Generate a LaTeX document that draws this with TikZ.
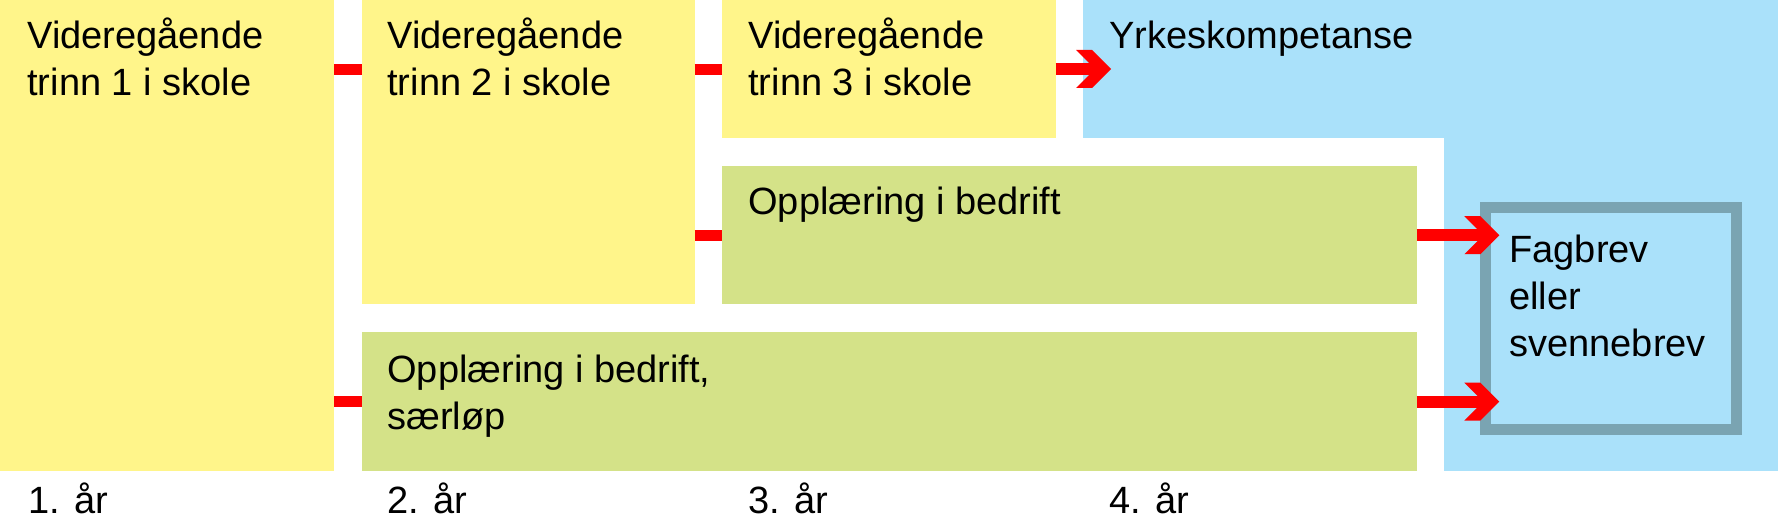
\documentclass[tikz,border=0pt]{standalone}
\usepackage{fontspec}
\setmainfont{Liberation Sans}
\usetikzlibrary{fit}
\definecolor{gul}{RGB}{255,245,138}
\definecolor{gronn}{RGB}{212,226,136}
\definecolor{blaa}{RGB}{170,225,250}
\definecolor{graa}{RGB}{122,164,178}

\pgfdeclarearrow{
  name = Chevron,
  setup code = {
    \pgfarrowssettipend{0pt}
    \pgfarrowssetlineend{-7pt}
    \pgfarrowssetbackend{-17.5pt}
    \pgfarrowsupperhullpoint{0pt}{0pt}
    \pgfarrowsupperhullpoint{-9.5pt}{9.5pt}
    \pgfarrowsupperhullpoint{-17.5pt}{9.5pt}
  },
  drawing code = {
    \pgfpathmoveto{\pgfqpoint{0pt}{0pt}}
    \pgfpathlineto{\pgfqpoint{-9.5pt}{9.5pt}}
    \pgfpathlineto{\pgfqpoint{-17.5pt}{9.5pt}}
    \pgfpathlineto{\pgfqpoint{-8pt}{0pt}}
    \pgfpathlineto{\pgfqpoint{-17.5pt}{-9.5pt}}
    \pgfpathlineto{\pgfqpoint{-9.5pt}{-9.5pt}}
    \pgfpathclose
    \pgfusepathqfill
  }
}

\begin{document}
\begin{tikzpicture}[x=0.5pt,y=-0.5pt,
  box/.style={inner sep=0pt,outer sep=0pt},
  txt/.style={anchor=base west,align=left,inner sep=0pt,font=\fontsize{19pt}{23.7pt}\selectfont},
  link/.style={red,line width=5.5pt},
  arr/.style={red,line width=6pt,-Chevron}]
\useasboundingbox (0,0) rectangle (1778,522);

\node[box,fill=gul,fit={(0,0) (334,470.7)}] (t1) {};
\node[box,fill=gul,fit={(362,0) (694.5,304)}] (t2) {};
\node[box,fill=gul,fit={(722,0) (1055.5,138)}] (t3) {};
\node[box,fill=blaa,fit={(1083,0) (1778,138)}] (yk) {};
\node[box,fill=blaa,fit={(1444,137) (1778,470.7)}] (yk2) {};
\node[box,fill=gronn,fit={(722,166.5) (1416.5,304)}] (opp) {};
\node[box,fill=gronn,fit={(362,332.5) (1416.5,470.7)}] (sl) {};
\node[box,draw=graa,line width=5.5pt,fit={(1485.5,208) (1736,429.5)}] (fag) {};

% base = last line
\node[txt] at (27,95.7) (t1txt) {Videregående\\trinn 1 i skole};
\node[txt] at (387,95.7) (t2txt) {Videregående\\trinn 2 i skole};
\node[txt] at (748,95.7) (t3txt) {Videregående\\trinn 3 i skole};
\node[txt] at (1109,48.3) (yktxt) {Yrkeskompetanse};
\node[txt] at (748,215) (opptxt) {Opplæring i bedrift};
\node[txt] at (387,429.5) (sltxt) {Opplæring i bedrift,\\særløp};
\node[txt] at (1509,357) (fagtxt) {Fagbrev\\eller\\svennebrev};

\node[txt] at (28,514) (aar1) {1. år};
\node[txt] at (387,514) (aar2) {2. år};
\node[txt] at (748,514) (aar3) {3. år};
\node[txt] at (1109,514) (aar4) {4. år};

\draw[link] ([yshift=-35pt]t1.north east) -- ([yshift=-35pt]t2.north west);
\draw[link] ([yshift=-35pt]t2.north east) -- ([yshift=-35pt]t3.north west);
\draw[link] (t2.east |- opp.west) -- (opp.west);
\draw[link] (t1.east |- sl.west) -- (sl.west);

\draw[arr] (t3.east) -- ([xshift=14pt]yk.west);
\draw[arr] (opp.east) -- ([xshift=6.9pt]fag.west |- opp.east);
\draw[arr] (sl.east) -- ([xshift=6.9pt]fag.west |- sl.east);

\end{tikzpicture}
\end{document}
